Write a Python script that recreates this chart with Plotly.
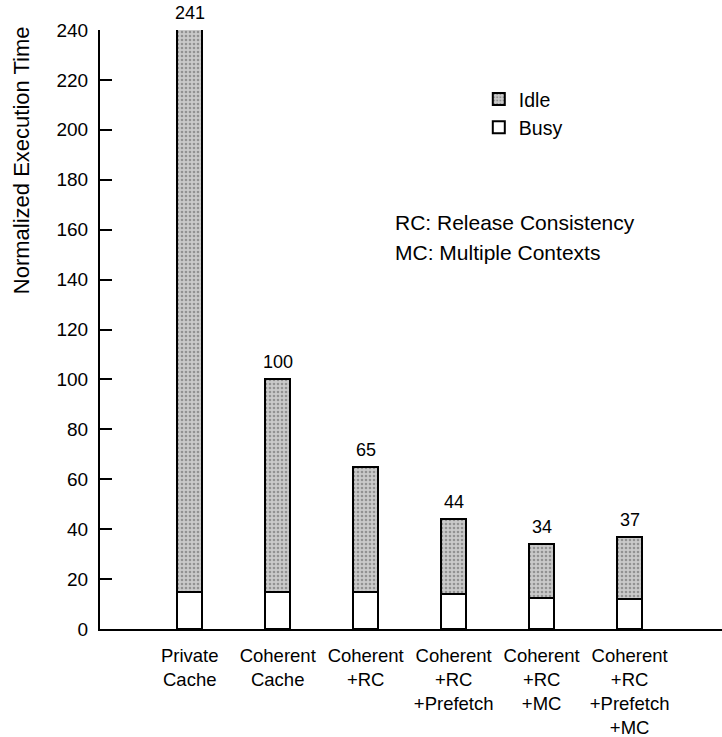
import plotly.graph_objects as go

categories = ["Private<br>Cache", "Coherent<br>Cache", "Coherent<br>+RC",
              "Coherent<br>+RC<br>+Prefetch", "Coherent<br>+RC<br>+MC",
              "Coherent<br>+RC<br>+Prefetch<br>+MC"]
totals = [241, 100, 65, 44, 34, 37]
busy = [15, 15, 15, 14, 12.5, 12]
idle = [t - b for t, b in zip(totals, busy)]
yticks = list(range(0, 241, 20))
YMAX = 240

xpos = list(range(len(categories)))
FAM = "Liberation Sans, Arial, sans-serif"


def f(size):
    return dict(family=FAM, size=size, color="black")


fig = go.Figure()
fig.add_trace(go.Bar(
    x=xpos, y=busy, name="Busy", width=0.28,
    marker=dict(color="white", line=dict(color="black", width=2)),
))
fig.add_trace(go.Bar(
    x=xpos, y=idle, name="Idle", width=0.28,
    marker=dict(color="#c4c4c4", line=dict(color="black", width=2),
                pattern=dict(shape=".", fgcolor="#5a5a5a", bgcolor="#cacaca",
                             size=4, solidity=0.35)),
))

# value labels above bars (bars taller than the axis are clipped at its top)
for xi, t in zip(xpos, totals):
    fig.add_annotation(x=xi, y=min(t, YMAX), text=str(t), showarrow=False,
                       yanchor="bottom", yshift=5, font=f(18))

fig.add_annotation(x=2.307, y=163, text="RC: Release Consistency", showarrow=False,
                   xanchor="left", yanchor="middle", font=f(21))
fig.add_annotation(x=2.307, y=151, text="MC: Multiple Contexts", showarrow=False,
                   xanchor="left", yanchor="middle", font=f(21))

# y-axis title (placed near the top as in the reference)
fig.add_annotation(xref="paper", yref="paper", x=-0.125, y=0.783,
                   text="Normalized Execution Time", textangle=-90, showarrow=False,
                   xanchor="center", yanchor="middle", font=f(22))

fig.update_layout(
    width=722, height=737,
    margin=dict(l=100, r=0, t=30, b=108),
    barmode="stack",
    plot_bgcolor="white", paper_bgcolor="white",
    font=f(18),
    legend=dict(x=0.609, y=0.917, xanchor="left", yanchor="top",
                traceorder="reversed", font=f(19.5), bgcolor="rgba(0,0,0,0)",
                tracegroupgap=0),
    xaxis=dict(range=[-1.02, 6.05], tickvals=xpos, ticktext=categories,
               showline=True, linecolor="black", linewidth=2, ticks="",
               showgrid=False, zeroline=False, tickfont=f(18.5), ticklabelstandoff=9,
               automargin=False),
    yaxis=dict(range=[0, YMAX], tickvals=yticks, showline=True, linecolor="black",
               linewidth=2, ticks="inside", ticklen=12, tickwidth=2, tickcolor="black",
               showgrid=False, zeroline=False, tickfont=f(19), ticklabelstandoff=6,
               automargin=False),
)

fig.write_html(
    "out.html",
    config={"displayModeBar": False},
    post_script="document.body.style.margin='0';document.body.style.overflow='hidden';",
)
